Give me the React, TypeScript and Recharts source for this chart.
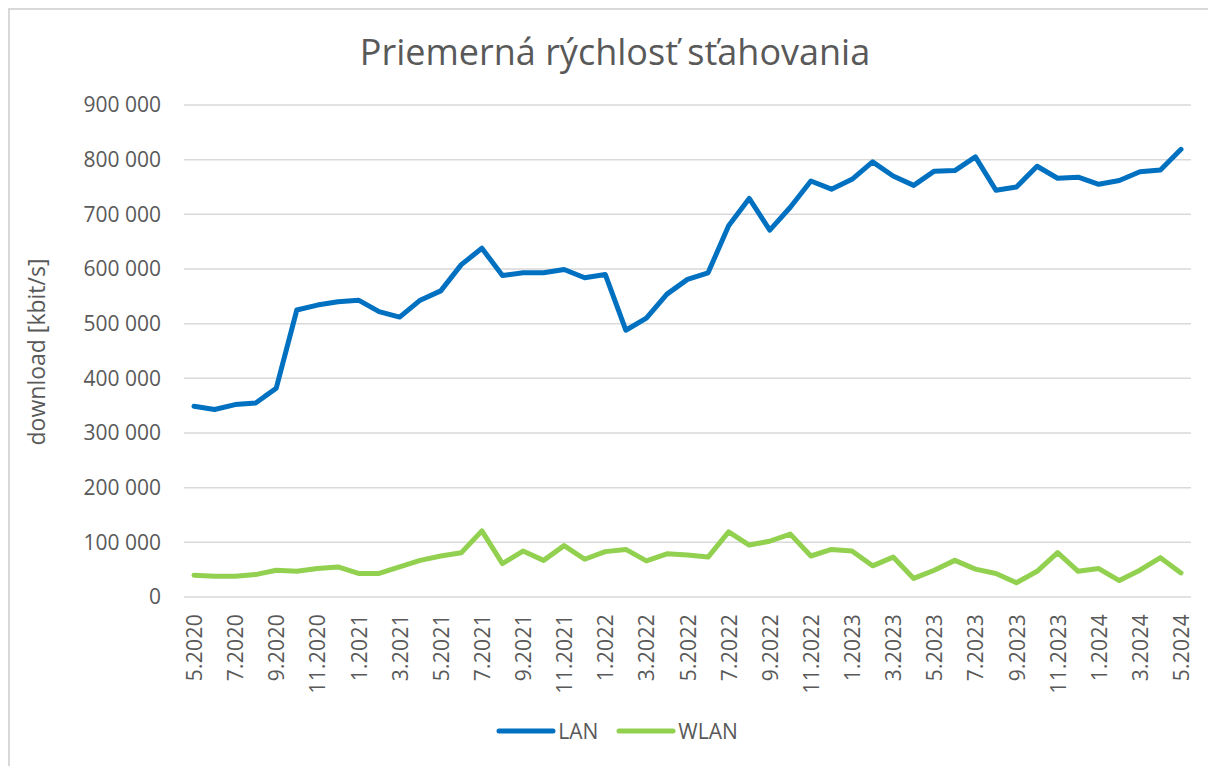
import React from 'react';
import { LineChart, Line, XAxis, YAxis, CartesianGrid, Legend } from 'recharts';

const months = [
  '5.2020', '6.2020', '7.2020', '8.2020', '9.2020', '10.2020', '11.2020', '12.2020',
  '1.2021', '2.2021', '3.2021', '4.2021', '5.2021', '6.2021', '7.2021', '8.2021', '9.2021', '10.2021', '11.2021', '12.2021',
  '1.2022', '2.2022', '3.2022', '4.2022', '5.2022', '6.2022', '7.2022', '8.2022', '9.2022', '10.2022', '11.2022', '12.2022',
  '1.2023', '2.2023', '3.2023', '4.2023', '5.2023', '6.2023', '7.2023', '8.2023', '9.2023', '10.2023', '11.2023', '12.2023',
  '1.2024', '2.2024', '3.2024', '4.2024', '5.2024',
];

const lanValues = [
  349000, 343000, 352000, 355000, 382000, 525000, 534000, 540000,
  543000, 522000, 512000, 543000, 560000, 608000, 638000, 588000, 593000, 593000, 599000, 584000,
  590000, 488000, 510000, 554000, 581000, 593000, 679000, 729000, 671000, 713000, 761000, 746000,
  764000, 796000, 770000, 753000, 779000, 780000, 805000, 744000, 750000, 788000, 766000, 768000,
  755000, 762000, 778000, 781000, 819000,
];

const wlanValues = [
  40000, 38000, 38000, 41000, 49000, 47000, 52000, 55000,
  43000, 43000, 55000, 67000, 75000, 81000, 121000, 61000, 84000, 67000, 94000, 69000,
  83000, 87000, 66000, 79000, 77000, 73000, 119000, 95000, 102000, 115000, 75000, 87000,
  84000, 57000, 73000, 34000, 49000, 67000, 51000, 43000, 26000, 47000, 81000, 47000,
  52000, 30000, 49000, 72000, 44000,
];

const yTicks = [0, 100000, 200000, 300000, 400000, 500000, 600000, 700000, 800000, 900000];

const seriesNames = { lan: 'LAN', wlan: 'WLAN' };
const titleText = 'Priemerná rýchlosť sťahovania';
const yAxisTitle = 'download [kbit/s]';

const data = months.map((m, i) => ({ month: m, lan: lanValues[i], wlan: wlanValues[i] }));

const TEXT_COLOR = '#595959';
const FONT = "'Open Sans', 'DejaVu Sans', sans-serif";

const fmt = (v: number) => String(v).replace(/\B(?=(\d{3})+(?!\d))/g, ' ');

const XTick = (props: any) => {
  const { x, y, payload } = props;
  return (
    <text
      x={x}
      y={y}
      transform={`rotate(-90 ${x} ${y})`}
      textAnchor="end"
      dominantBaseline="central"
      fill={TEXT_COLOR}
      fontSize={21}
      fontFamily={FONT}
      letterSpacing={0.3}
    >
      {payload.value}
    </text>
  );
};

const YLabel = (props: any) => {
  const { viewBox } = props;
  const cx = 26;
  const cy = viewBox.y + viewBox.height / 2 + 1;
  return (
    <text
      x={cx}
      y={cy}
      transform={`rotate(-90 ${cx} ${cy})`}
      textAnchor="middle"
      dominantBaseline="central"
      fill={TEXT_COLOR}
      fontSize={23}
      fontFamily={FONT}
    >
      {yAxisTitle}
    </text>
  );
};

const LegendContent = (props: any) => {
  const { payload } = props;
  return (
    <div style={{ display: 'flex', justifyContent: 'center', alignItems: 'center', fontFamily: FONT }}>
      {(payload || []).map((p: any, i: number) => (
        <div key={i} style={{ display: 'flex', alignItems: 'center', marginRight: i === 0 ? 18 : 0 }}>
          <svg width={60} height={10} style={{ display: 'block' }}>
            <line x1={3} y1={5} x2={57} y2={5} stroke={p.color} strokeWidth={5} strokeLinecap="round" />
          </svg>
          <span style={{ color: TEXT_COLOR, fontSize: 21, marginLeft: 2, lineHeight: '30px' }}>{p.value}</span>
        </div>
      ))}
    </div>
  );
};

export default function App() {
  return (
    <div
      style={{
        position: 'fixed',
        left: 8,
        top: 8,
        width: 1200,
        height: 758,
        borderTop: '2px solid #D9D9D9',
        borderLeft: '2px solid #D9D9D9',
        boxSizing: 'border-box',
        background: '#fff',
        overflow: 'hidden',
      }}
    >
      <div
        style={{
          position: 'absolute',
          left: 0,
          top: 19,
          width: 1210,
          textAlign: 'center',
          fontFamily: FONT,
          fontSize: 36,
          color: TEXT_COLOR,
          lineHeight: '46px',
        }}
      >
        {titleText}
      </div>
      <LineChart
        width={1198}
        height={756}
        data={data}
        margin={{ top: 95, right: 17, bottom: 69, left: 0 }}
      >
        <CartesianGrid vertical={false} stroke="#D9D9D9" strokeWidth={1.5} />
        <XAxis
          dataKey="month"
          interval={1}
          axisLine={false}
          tickLine={false}
          tickSize={0}
          tickMargin={17}
          height={100}
          padding={{ left: 10, right: 10 }}
          tick={<XTick />}
        />
        <YAxis
          domain={[0, 900000]}
          ticks={yTicks}
          width={174}
          axisLine={false}
          tickLine={false}
          tickSize={0}
          tickMargin={23}
          tickFormatter={fmt}
          tick={{ fill: TEXT_COLOR, fontSize: 21, fontFamily: FONT }}
          label={<YLabel />}
        />
        <Legend
          layout="horizontal"
          verticalAlign="middle"
          align="center"
          wrapperStyle={{ top: 706, left: 8, width: 1198 }}
          content={<LegendContent />}
        />
        <Line
          type="linear"
          dataKey="lan"
          name={seriesNames.lan}
          stroke="#0070C0"
          strokeWidth={5}
          strokeLinejoin="round"
          strokeLinecap="round"
          dot={false}
          activeDot={false}
          isAnimationActive={false}
        />
        <Line
          type="linear"
          dataKey="wlan"
          name={seriesNames.wlan}
          stroke="#92D050"
          strokeWidth={5}
          strokeLinejoin="round"
          strokeLinecap="round"
          dot={false}
          activeDot={false}
          isAnimationActive={false}
        />
      </LineChart>
    </div>
  );
}
